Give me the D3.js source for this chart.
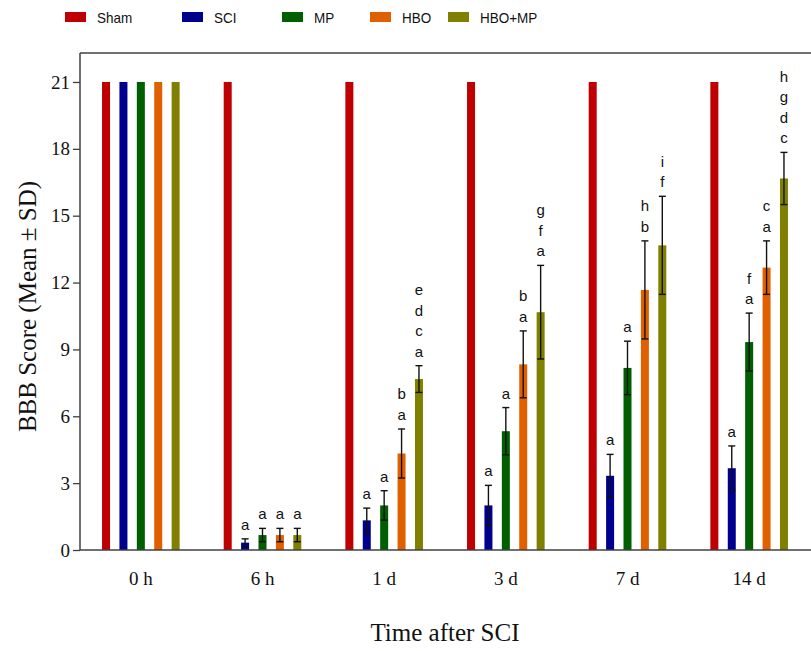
<!DOCTYPE html>
<html>
<head>
<meta charset="utf-8">
<script src="https://cdn.jsdelivr.net/npm/d3@7"></script>
<style>
body{margin:0;background:#fff}
svg{display:block}
</style>
</head>
<body>
<svg width="811" height="651"></svg>
<script>
const times = ['0 h','6 h','1 d','3 d','7 d','14 d']
const groups = ['Sham','SCI','MP','HBO','HBO+MP']
const colors = ['#c00000','#00008f','#005f00','#e06000','#808000']

// means per group, one value per time point
const sham   = [21, 21, 21, 21, 21, 21]
const sci    = [21, 0.33, 1.33, 2.0, 3.33, 3.67]
const mp     = [21, 0.67, 2.0, 5.33, 8.17, 9.33]
const hbo    = [21, 0.67, 4.33, 8.33, 11.67, 12.67]
const hboMp  = [21, 0.67, 7.67, 10.67, 13.67, 16.67]

// standard deviations (null = no error bar)
const shamSd  = [null,null,null,null,null,null]
const sciSd   = [null, 0.17, 0.55, 0.9, 0.96, 1.0]
const mpSd    = [null, 0.3, 0.66, 1.06, 1.2, 1.3]
const hboSd   = [null, 0.3, 1.1, 1.5, 2.2, 1.2]
const hboMpSd = [null, 0.3, 0.6, 2.1, 2.2, 1.17]

// significance letters, top to bottom
const sciLet   = [[],['a'],['a'],['a'],['a'],['a']]
const mpLet    = [[],['a'],['a'],['a'],['a'],['f','a']]
const hboLet   = [[],['a'],['b','a'],['b','a'],['h','b'],['c','a']]
const hboMpLet = [[],['a'],['e','d','c','a'],['g','f','a'],['i','f'],['h','g','d','c']]

const yTicks = [0,3,6,9,12,15,18,21]

const means = [sham, sci, mp, hbo, hboMp]
const sds = [shamSd, sciSd, mpSd, hboSd, hboMpSd]
const lets = [[[],[],[],[],[],[]], sciLet, mpLet, hboLet, hboMpLet]

const data = []
times.forEach((t,i) => groups.forEach((g,j) => {
  data.push({t, g, j, v: means[j][i], sd: sds[j][i], l: lets[j][i]})
}))

const svg = d3.select('svg'),
  margin = {top:53,right:0,bottom:101,left:80},
  width = 811 - margin.left + 1,
  height = 651 - margin.top - margin.bottom

const container = svg.append('g')
  .attr('transform',`translate(${margin.left},${margin.top})`)

const x = d3.scaleBand().domain(times).range([0,730])
const xi = d3.scaleBand().domain(groups).range([-43.5,43.5]).paddingInner(0.54).paddingOuter(0.27)
const y = d3.scaleLinear().domain([0,22.3]).range([height,0])
const color = d3.scaleOrdinal().domain(groups).range(colors)

// frame top line, runs off the right edge like the original
container.append('line').attr('x1',0).attr('x2',width+5).attr('y1',0).attr('y2',0)
  .attr('stroke','#404040').attr('stroke-width',1.5)

const bars = container.append('g')
bars.selectAll('rect').data(data).enter().append('rect')
  .attr('x',d => x(d.t) + x.bandwidth()/2 + xi(d.g))
  .attr('width',xi.bandwidth())
  .attr('y',d => y(d.v))
  .attr('height',d => y(0) - y(d.v))
  .attr('fill',d => color(d.g))

const errs = container.append('g').attr('stroke','#111').attr('stroke-width',1.4)
data.filter(d => d.sd != null).forEach(d => {
  const cx = x(d.t) + x.bandwidth()/2 + xi(d.g) + xi.bandwidth()/2
  const y1 = y(d.v + d.sd), y2 = y(Math.max(0,d.v - d.sd))
  errs.append('line').attr('x1',cx).attr('x2',cx).attr('y1',y1).attr('y2',y2)
  errs.append('line').attr('x1',cx-3.5).attr('x2',cx+3.5).attr('y1',y1).attr('y2',y1)
  errs.append('line').attr('x1',cx-3.5).attr('x2',cx+3.5).attr('y1',y2).attr('y2',y2)
})

const letters = container.append('g')
  .attr('font-family','Arial, "Liberation Sans", sans-serif')
  .attr('font-size',15).attr('fill','#111').attr('text-anchor','middle')
data.filter(d => d.l.length).forEach(d => {
  const cx = x(d.t) + x.bandwidth()/2 + xi(d.g) + xi.bandwidth()/2
  const base = y(d.v + (d.sd || 0)) - 9
  const n = d.l.length
  d.l.forEach((s,k) => {
    letters.append('text').attr('x',cx).attr('y',base - (n-1-k)*20.5).text(s)
  })
})

const yAxis = container.append('g').attr('class','axis axis--y')
  .call(d3.axisLeft(y).tickValues(yTicks).tickSize(7).tickSizeOuter(0))
yAxis.select('.domain').attr('stroke','#404040').attr('stroke-width',1.5)
  .attr('d',`M0,${height}V0`)
yAxis.selectAll('.tick line').attr('stroke','#404040').attr('stroke-width',1.3)
yAxis.selectAll('text').attr('font-family','"Liberation Serif", "Times New Roman", serif')
  .attr('font-size',19).attr('fill','#111').attr('x',-10)

const xAxis = container.append('g').attr('class','axis axis--x')
  .attr('transform',`translate(0,${height})`)
  .call(d3.axisBottom(x).tickSize(0).tickSizeOuter(0))
xAxis.select('.domain').attr('stroke','#404040').attr('stroke-width',1.5)
  .attr('d',`M0,0H${width+5}`)
xAxis.selectAll('text').attr('font-family','"Liberation Serif", "Times New Roman", serif')
  .attr('font-size',19).attr('fill','#111').attr('dy',0).attr('y',35)

svg.append('text')
  .attr('transform',`translate(36,${margin.top + height/2 + 5}) rotate(-90)`)
  .attr('text-anchor','middle')
  .attr('font-family','"Liberation Serif", "Times New Roman", serif')
  .attr('font-size',25).attr('fill','#111')
  .text('BBB Score (Mean ± SD)')

svg.append('text')
  .attr('x',445).attr('y',641)
  .attr('text-anchor','middle')
  .attr('font-family','"Liberation Serif", "Times New Roman", serif')
  .attr('font-size',25).attr('fill','#111')
  .text('Time after SCI')

// legend
const legendX = [65,182,282,370,448]
const legend = svg.append('g').attr('class','legend')
groups.forEach((g,i) => {
  const lg = legend.append('g').attr('transform',`translate(${legendX[i]},12)`)
  lg.append('rect').attr('width',21).attr('height',10).attr('fill',color(g))
  lg.append('text').attr('x',32).attr('y',11)
    .attr('font-family','Arial, "Liberation Sans", sans-serif')
    .attr('font-size',15).attr('fill','#111')
    .attr('transform','translate(32,0) scale(0.9,1) translate(-32,0)')
    .text(g)
})
</script>
</body>
</html>
